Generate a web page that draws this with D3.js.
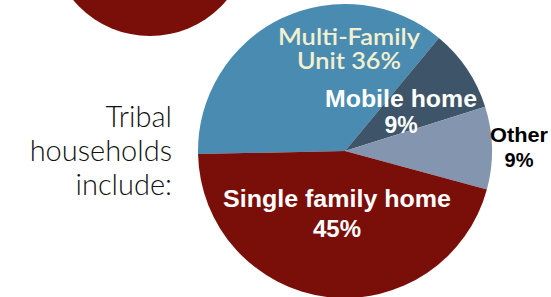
<!DOCTYPE html>
<html>
<head>
<meta charset="utf-8">
<script src="https://cdn.jsdelivr.net/npm/d3@7"></script>
<style>
  html, body { margin: 0; padding: 0; background: #fff; }
  svg { display: block; }
</style>
</head>
<body>
<svg id="chart" width="551" height="297"></svg>
<script>
// ---- data ----
const categories = ["Multi-Family Unit", "Mobile home", "Other", "Single family home"];
const values = [36, 9, 9, 45];
const labelLines = [["Multi-Family", "Unit"], ["Mobile home", ""], ["Other", ""], ["Single family home", ""]];
const sideText = ["Tribal", "households", "include:"];

// ---- styles / layout ----
const W = 551, H = 297;
const cx = 345, cy = 151, R = 147;
const colors = ["#4a8bb1", "#3e5569", "#8496af", "#7a0f0a"];
const labelStyle = [
  { dx: 4,   y: [45, 69],   size: 22, weight: 600, family: "Lato, 'Open Sans', sans-serif", fill: "#f3f0d0", len: [142, 104], joinPct: true },
  { dx: 56,  y: [107, 133], size: 23, weight: 700, family: "'Liberation Sans', Arial, sans-serif", fill: "#ffffff", len: [152, null] },
  { dx: 174, y: [142, 167], size: 20, weight: 700, family: "'Liberation Sans', Arial, sans-serif", fill: "#000000", len: [58, null] },
  { dx: -8,  y: [207, 237], size: 24, weight: 700, family: "'Liberation Sans', Arial, sans-serif", fill: "#ffffff", len: [228, null] }
];

const svg = d3.select("#chart");

// decorative partial circle (top-left)
svg.append("circle").attr("cx", 150).attr("cy", -64).attr("r", 100).attr("fill", "#7a0f0a");

const start = -91.2 * Math.PI / 180;
const pie = d3.pie().sort(null).value(d => d)
  .startAngle(start).endAngle(start + 2 * Math.PI);
const arc = d3.arc().innerRadius(0).outerRadius(R);

const g = svg.append("g").attr("transform", `translate(${cx},${cy})`);
g.selectAll("path").data(pie(values)).join("path")
  .attr("d", arc)
  .attr("fill", (d, i) => colors[i]);

// labels
values.forEach((v, i) => {
  const st = labelStyle[i];
  const lines = labelLines[i].slice();
  if (st.joinPct) lines[1] = lines[1] + " " + v + "%";
  else lines[1] = v + "%";
  lines.forEach((txt, j) => {
    const t = svg.append("text")
      .attr("x", cx + st.dx)
      .attr("y", st.y[j])
      .attr("text-anchor", "middle")
      .attr("font-family", st.family)
      .attr("font-size", st.size)
      .attr("font-weight", st.weight)
      .attr("fill", st.fill)
      .text(txt);
    if (st.len[j]) t.attr("textLength", st.len[j]).attr("lengthAdjust", "spacingAndGlyphs");
  });
});

// side text
const sideY = [127, 161, 195];
sideText.forEach((s, i) => {
  svg.append("text")
    .attr("x", 172).attr("y", sideY[i])
    .attr("text-anchor", "end")
    .attr("font-family", "Lato, 'Open Sans', sans-serif")
    .attr("font-weight", 300)
    .attr("font-size", 29)
    .attr("fill", "#111111")
    .text(s);
});
</script>
</body>
</html>
